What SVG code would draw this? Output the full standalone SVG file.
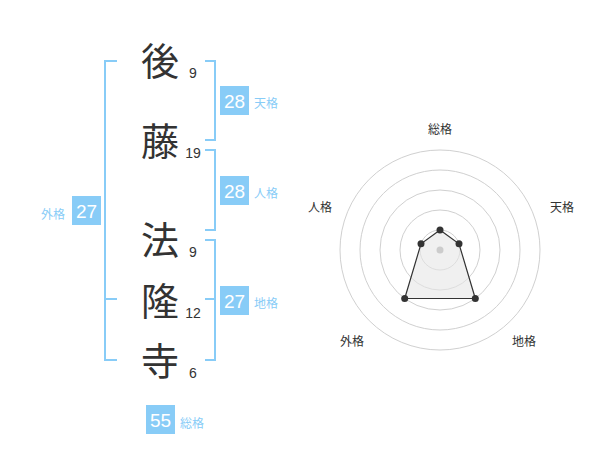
<svg xmlns="http://www.w3.org/2000/svg" width="600" height="470" viewBox="0 0 600 470">
<style>
.kanji{font-family:"Noto Sans CJK JP","Noto Sans CJK SC",sans-serif;font-size:38px;fill:#333;text-anchor:middle}
.num{font-family:"Liberation Sans",Arial,sans-serif;font-size:14px;fill:#333;text-anchor:middle}
.br{fill:none;stroke:#88CCF7;stroke-width:2}
.box{fill:#88CCF7}
.bnum{font-family:"Liberation Sans",Arial,sans-serif;font-size:19px;fill:#fff;text-anchor:middle}
.blab{font-family:"Noto Sans CJK JP","Noto Sans CJK SC",sans-serif;font-size:12px;fill:#88CCF7}
.ring{fill:none;stroke:#d0d0d0;stroke-width:1}
.rlab{font-family:"Noto Sans CJK JP","Noto Sans CJK SC",sans-serif;font-size:12px;fill:#333;text-anchor:middle}
.pt{fill:#333}
</style>
<rect width="600" height="470" fill="#fff"/>
<g id="connectors">
<path class="br" d="M117,61 H105 V360 H117 M105,299 H117"/>
<path class="br" d="M205,61 H215 V140 H205"/>
<path class="br" d="M205,150 H215 V230 H205"/>
<path class="br" d="M205,240 H215 V360 H205 M205,299 H215"/>
</g>
<g id="char1"><text class="kanji" x="160" y="75">後</text><text class="num" x="193" y="78">9</text></g>
<g id="char2"><text class="kanji" x="160" y="155">藤</text><text class="num" x="193" y="158">19</text></g>
<g id="char3"><text class="kanji" x="160" y="254">法</text><text class="num" x="193" y="257">9</text></g>
<g id="char4"><text class="kanji" x="160" y="315">隆</text><text class="num" x="193" y="318">12</text></g>
<g id="char5"><text class="kanji" x="160" y="375">寺</text><text class="num" x="193" y="378">6</text></g>
<g id="tenkaku"><rect class="box" x="220" y="86" width="29" height="29"/><text class="bnum" x="234.5" y="107.5">28</text><text class="blab" x="254" y="108">天格</text></g>
<g id="jinkaku"><rect class="box" x="220" y="176" width="29" height="29"/><text class="bnum" x="234.5" y="197.5">28</text><text class="blab" x="254" y="198">人格</text></g>
<g id="chikaku"><rect class="box" x="220" y="286" width="29" height="29"/><text class="bnum" x="234.5" y="307.5">27</text><text class="blab" x="254" y="308">地格</text></g>
<g id="gaikaku"><rect class="box" x="72" y="196" width="29" height="29"/><text class="bnum" x="86.5" y="217.5">27</text><text class="blab" x="41" y="219">外格</text></g>
<g id="soukaku"><rect class="box" x="146" y="405" width="29" height="29"/><text class="bnum" x="160.5" y="426.5">55</text><text class="blab" x="180" y="428">総格</text></g>
<g id="radar">
<circle class="ring" cx="440" cy="250" r="20"/>
<circle class="ring" cx="440" cy="250" r="40"/>
<circle class="ring" cx="440" cy="250" r="60"/>
<circle class="ring" cx="440" cy="250" r="80"/>
<circle class="ring" cx="440" cy="250" r="100"/>
<polygon points="440,230 459,243.8 475.3,298.5 404.7,298.5 421,243.8" fill="#e6e6e6" fill-opacity="0.6" stroke="#333" stroke-width="1.2"/>
<circle cx="440" cy="250" r="3.5" fill="#ccc"/>
<circle class="pt" cx="440" cy="230" r="3.5"/>
<circle class="pt" cx="459" cy="243.8" r="3.5"/>
<circle class="pt" cx="475.3" cy="298.5" r="3.5"/>
<circle class="pt" cx="404.7" cy="298.5" r="3.5"/>
<circle class="pt" cx="421" cy="243.8" r="3.5"/>
<text class="rlab" x="440" y="134">総格</text>
<text class="rlab" x="562" y="212">天格</text>
<text class="rlab" x="320" y="212">人格</text>
<text class="rlab" x="352" y="346">外格</text>
<text class="rlab" x="524" y="346">地格</text>
</g>
</svg>
